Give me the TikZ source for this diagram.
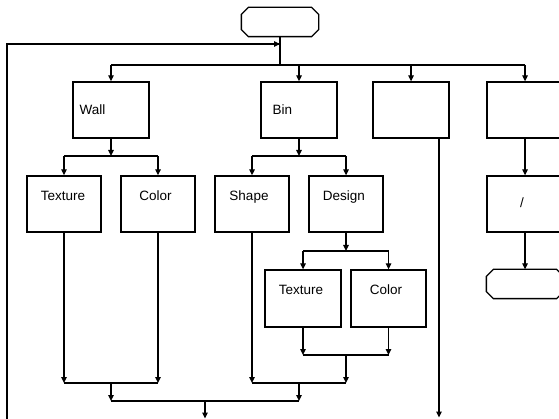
\documentclass[tikz,border=0pt]{standalone}
\usepackage{fontspec}
\setmainfont{Liberation Sans}
\usetikzlibrary{arrows.meta}
\begin{document}
\begin{tikzpicture}[x=1pt,y=-1pt,
  line width=1.3pt,
  box/.style={draw,rectangle,minimum width=74pt,minimum height=56pt,inner sep=0pt},
  term/.style={rectangle,minimum width=76pt,minimum height=28pt,inner sep=0pt},
  lbl/.style={inner sep=0pt,font=\fontsize{13.5}{16}\selectfont,anchor=base},
  arr/.style={-{Triangle[length=6pt,width=5.5pt]}}]
\useasboundingbox (0,0) rectangle (559,419);
\clip (0,0) rectangle (559,419);
\newcommand\chamf[1]{%
  \draw ([xshift=7pt]#1.north west) -- ([xshift=-7pt]#1.north east) -- ([yshift=-7pt]#1.north east)
    -- ([yshift=7pt]#1.south east) -- ([xshift=-7pt]#1.south east) -- ([xshift=7pt]#1.south west)
    -- ([yshift=7pt]#1.south west) -- ([yshift=-7pt]#1.north west) -- cycle;}
% nodes
\node[term] (start) at (280,22) {};
\chamf{start}
\node[box,minimum width=76pt] (wall) at (111,110) {};
\node[box,minimum width=76pt] (bin) at (299,110) {};
\node[box,minimum width=76pt] (b3) at (411,110) {};
\node[box,minimum width=76pt] (b4) at (525,110) {};
\node[box] (tex1) at (64,204) {};
\node[box] (col1) at (158,204) {};
\node[box] (shape) at (252,204) {};
\node[box] (design) at (346,204) {};
\node[box,minimum width=76pt,minimum height=57pt] (tex2) at (303,298.5) {};
\node[box,minimum width=75pt,minimum height=57pt] (col2) at (388.5,298.5) {};
\node[box,minimum width=76pt] (slash) at (525,204) {};
\node[term] (end) at (525,284) {};
\chamf{end}
% labels
\node[lbl,anchor=base west] (lwall) at (79,115) {Wall};
\node[lbl,anchor=base west] (lbin) at (272,115) {Bin};
\node[lbl] (ltex1) at (63,201) {Texture};
\node[lbl] (lcol1) at (155.5,201) {Color};
\node[lbl] (lshape) at (249,201) {Shape};
\node[lbl] (ldesign) at (344,201) {Design};
\node[lbl] (ltex2) at (301,295) {Texture};
\node[lbl] (lcol2) at (386,295) {Color};
\node[lbl] (lslash) at (522,208) {/};
% junction coordinates
\coordinate (loopin) at (280,44);
\coordinate (bus0) at (280,65);
\coordinate (loopbot) at (7,419);
% top bus
\draw (start.south) -- (bus0);
\draw (loopbot) -- (7,44) -- (loopin);
\draw[arr] (7,44) -- (loopin);
\draw (wall.north |- bus0) -- (b4.north |- bus0);
\foreach \n in {wall,bin,b3,b4} \draw[arr] (\n.north |- bus0) -- (\n.north);
% wall children
\coordinate (wj) at (111,156);
\draw[arr] (wall.south) -- (wj);
\draw (tex1.north |- wj) -- (col1.north |- wj);
\draw[arr] (tex1.north |- wj) -- (tex1.north);
\draw[arr] (col1.north |- wj) -- (col1.north);
% bin children
\coordinate (bj) at (299,156);
\draw[arr] (bin.south) -- (bj);
\draw (shape.north |- bj) -- (design.north |- bj);
\draw[arr] (shape.north |- bj) -- (shape.north);
\draw[arr] (design.north |- bj) -- (design.north);
% design children
\coordinate (dj) at (346,251);
\draw[arr] (design.south) -- (dj);
\draw (tex2.north |- dj) -- (col2.north |- dj);
\draw[arr] (tex2.north |- dj) -- (tex2.north);
\draw[arr] (col2.north |- dj) -- (col2.north);
% merge texture2/color2
\coordinate (m2) at (346,355);
\draw[arr] (tex2.south) -- (tex2.south |- m2);
\draw[arr] (col2.south) -- (col2.south |- m2);
\draw (tex2.south |- m2) -- (col2.south |- m2);
\coordinate (m3) at (346,383);
\draw[arr] (m2) -- (m3);
\draw[arr] (shape.south) -- (shape.south |- m3);
\draw (shape.south |- m3) -- (m3);
\coordinate (m3c) at (299,383);
\coordinate (m4r) at (299,401);
\draw[arr] (m3c) -- (m4r);
% merge wall children
\coordinate (m1) at (111,383);
\draw[arr] (tex1.south) -- (tex1.south |- m1);
\draw[arr] (col1.south) -- (col1.south |- m1);
\draw (tex1.south |- m1) -- (col1.south |- m1);
\coordinate (m4l) at (111,401);
\draw[arr] (m1) -- (m4l);
\draw (m4l) -- (m4r);
\coordinate (out1) at (205,418.5);
\draw[arr] (205,401) -- (out1);
% box3 exit
\coordinate (out2) at (439,417.5);
\draw[arr] (b3.south -| out2) -- (out2);
% box4 chain
\draw[arr] (b4.south) -- (slash.north);
\draw[arr] (slash.south) -- (end.north);
\end{tikzpicture}
\end{document}
